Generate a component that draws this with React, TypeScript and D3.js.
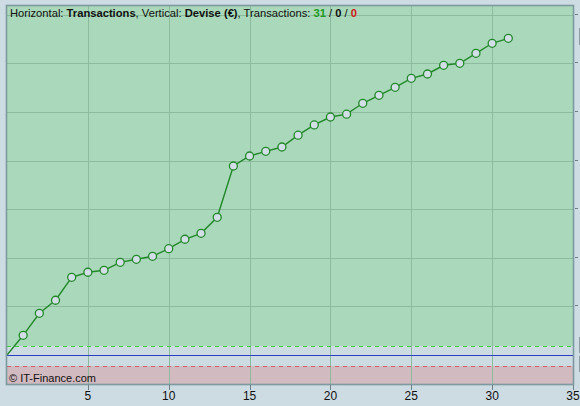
import * as d3 from 'd3';

// cumulative result after each transaction (index 0 = start)
const trades = [0, 1, 2, 3, 4, 5, 6, 7, 8, 9, 10, 11, 12, 13, 14, 15, 16, 17, 18, 19, 20, 21, 22, 23, 24, 25, 26, 27, 28, 29, 30, 31];
const equity = [0, 405, 858, 1126, 1599, 1702, 1743, 1907, 1969, 2031, 2187, 2381, 2504, 2833, 3889, 4095, 4191, 4280, 4523, 4733, 4897, 4955, 5179, 5344, 5508, 5693, 5782, 5961, 6002, 6208, 6414, 6516];
const xTicks = [5, 10, 15, 20, 25, 30, 35];
const yTicks = [1000, 2000, 3000, 4000, 5000, 6000, 7000];
const upperBand = 185;
const lowerBand = -218;
const counts = { wins: 31, flat: 0, losses: 0 };

const W = 580;
const H = 406;
const PLOT = { left: 7, right: 573, top: 6, bottom: 384 };

const BG = '#cddbe3';
const GREEN_ZONE = '#a9d9ba';
const RED_ZONE = '#d1bac0';
const GRID = '#8dbb9d';
const LINE = '#23882a';
const FONT = 'Liberation Sans, Arial, sans-serif';

// snap a coordinate to the pixel centre so 1px lines stay crisp
const px = (v: number) => Math.round(v) + 0.5;

export default function App() {
  const x = d3.scaleLinear().domain([0, 35]).range([PLOT.left, PLOT.right]);
  const y = d3.scaleLinear().domain([-597, 7181]).range([PLOT.bottom, PLOT.top]);

  const line = d3.line<number>()
    .x((_, i) => x(trades[i]))
    .y((d) => y(d));

  return (
    <div style={{ position: 'fixed', left: 0, top: 0, width: W, height: H, background: BG }}>
      <svg width={W} height={H} style={{ display: 'block' }} fontFamily={FONT}>
        <rect x={0} y={0} width={W} height={H} fill={BG} />

        {/* zones */}
        <rect x={PLOT.left} y={PLOT.top} width={PLOT.right - PLOT.left} height={Math.round(y(upperBand)) - PLOT.top} fill={GREEN_ZONE} />
        <rect x={PLOT.left} y={Math.round(y(lowerBand))} width={PLOT.right - PLOT.left} height={PLOT.bottom - Math.round(y(lowerBand))} fill={RED_ZONE} />

        {/* grid */}
        {xTicks.filter((t) => t < 35).map((t) => (
          <line key={'gx' + t} x1={px(x(t))} x2={px(x(t))} y1={PLOT.top} y2={PLOT.bottom} stroke={GRID} strokeWidth={1} />
        ))}
        {yTicks.map((t) => (
          <line key={'gy' + t} x1={PLOT.left} x2={PLOT.right} y1={px(y(t))} y2={px(y(t))} stroke={GRID} strokeWidth={1} />
        ))}

        {/* band lines + zero */}
        <line x1={PLOT.left} x2={PLOT.right} y1={px(y(upperBand))} y2={px(y(upperBand))} stroke="#3fcf3f" strokeDasharray="4,4" strokeWidth={1} />
        <line x1={PLOT.left} x2={PLOT.right} y1={px(y(lowerBand))} y2={px(y(lowerBand))} stroke="#d0626a" strokeDasharray="4,4" strokeWidth={1} />
        <line x1={PLOT.left} x2={PLOT.right} y1={px(y(0))} y2={px(y(0))} stroke="#2f3cc4" strokeWidth={1.2} />

        {/* equity curve */}
        <path d={line(equity) ?? ''} fill="none" stroke={LINE} strokeWidth={1.4} />
        {equity.slice(1).map((v, i) => (
          <circle key={'p' + i} cx={x(trades[i + 1])} cy={y(v)} r={4} fill="#d3dfe6" stroke={LINE} strokeWidth={1.3} />
        ))}

        {/* frame */}
        <rect x={PLOT.left - 0.5} y={PLOT.top - 0.5} width={PLOT.right - PLOT.left + 1} height={PLOT.bottom - PLOT.top + 1} fill="none" stroke="#7e9a9e" strokeWidth={1.6} />

        {/* x axis */}
        {xTicks.map((t) => (
          <g key={'tx' + t}>
            <line x1={px(x(t))} x2={px(x(t))} y1={PLOT.bottom + 1} y2={PLOT.bottom + 6} stroke="#6f7f88" strokeWidth={1} />
            <text x={x(t)} y={400} textAnchor="middle" fontSize={12} fill="#111">{t}</text>
          </g>
        ))}

        {/* right axis ticks (labels cut off) */}
        {yTicks.map((t) => (
          <line key={'ty' + t} x1={PLOT.right + 2} x2={PLOT.right + 5} y1={px(y(t)) - 1} y2={px(y(t)) - 1} stroke="#6f7f88" strokeWidth={1} />
        ))}
        <line x1={579.5} x2={579.5} y1={28} y2={45} stroke="#8e9aa2" strokeWidth={1} />
        <line x1={579.5} x2={579.5} y1={337} y2={353} stroke="#8e9aa2" strokeWidth={1} />
        <line x1={579.5} x2={579.5} y1={356} y2={372} stroke="#8e9aa2" strokeWidth={1} />

        {/* header */}
        <text x={10} y={17} fontSize={11.2} fill="#111">
          Horizontal: <tspan fontWeight="bold">Transactions</tspan>, Vertical: <tspan fontWeight="bold">Devise (€)</tspan>, Transactions: <tspan fontWeight="bold" fill="#1f9a1f">{counts.wins}</tspan> / <tspan fontWeight="bold">{counts.flat}</tspan> / <tspan fontWeight="bold" fill="#d01818">{counts.losses}</tspan>
        </text>
        <text x={9} y={382} fontSize={11} fill="#111">© IT-Finance.com</text>
      </svg>
    </div>
  );
}
